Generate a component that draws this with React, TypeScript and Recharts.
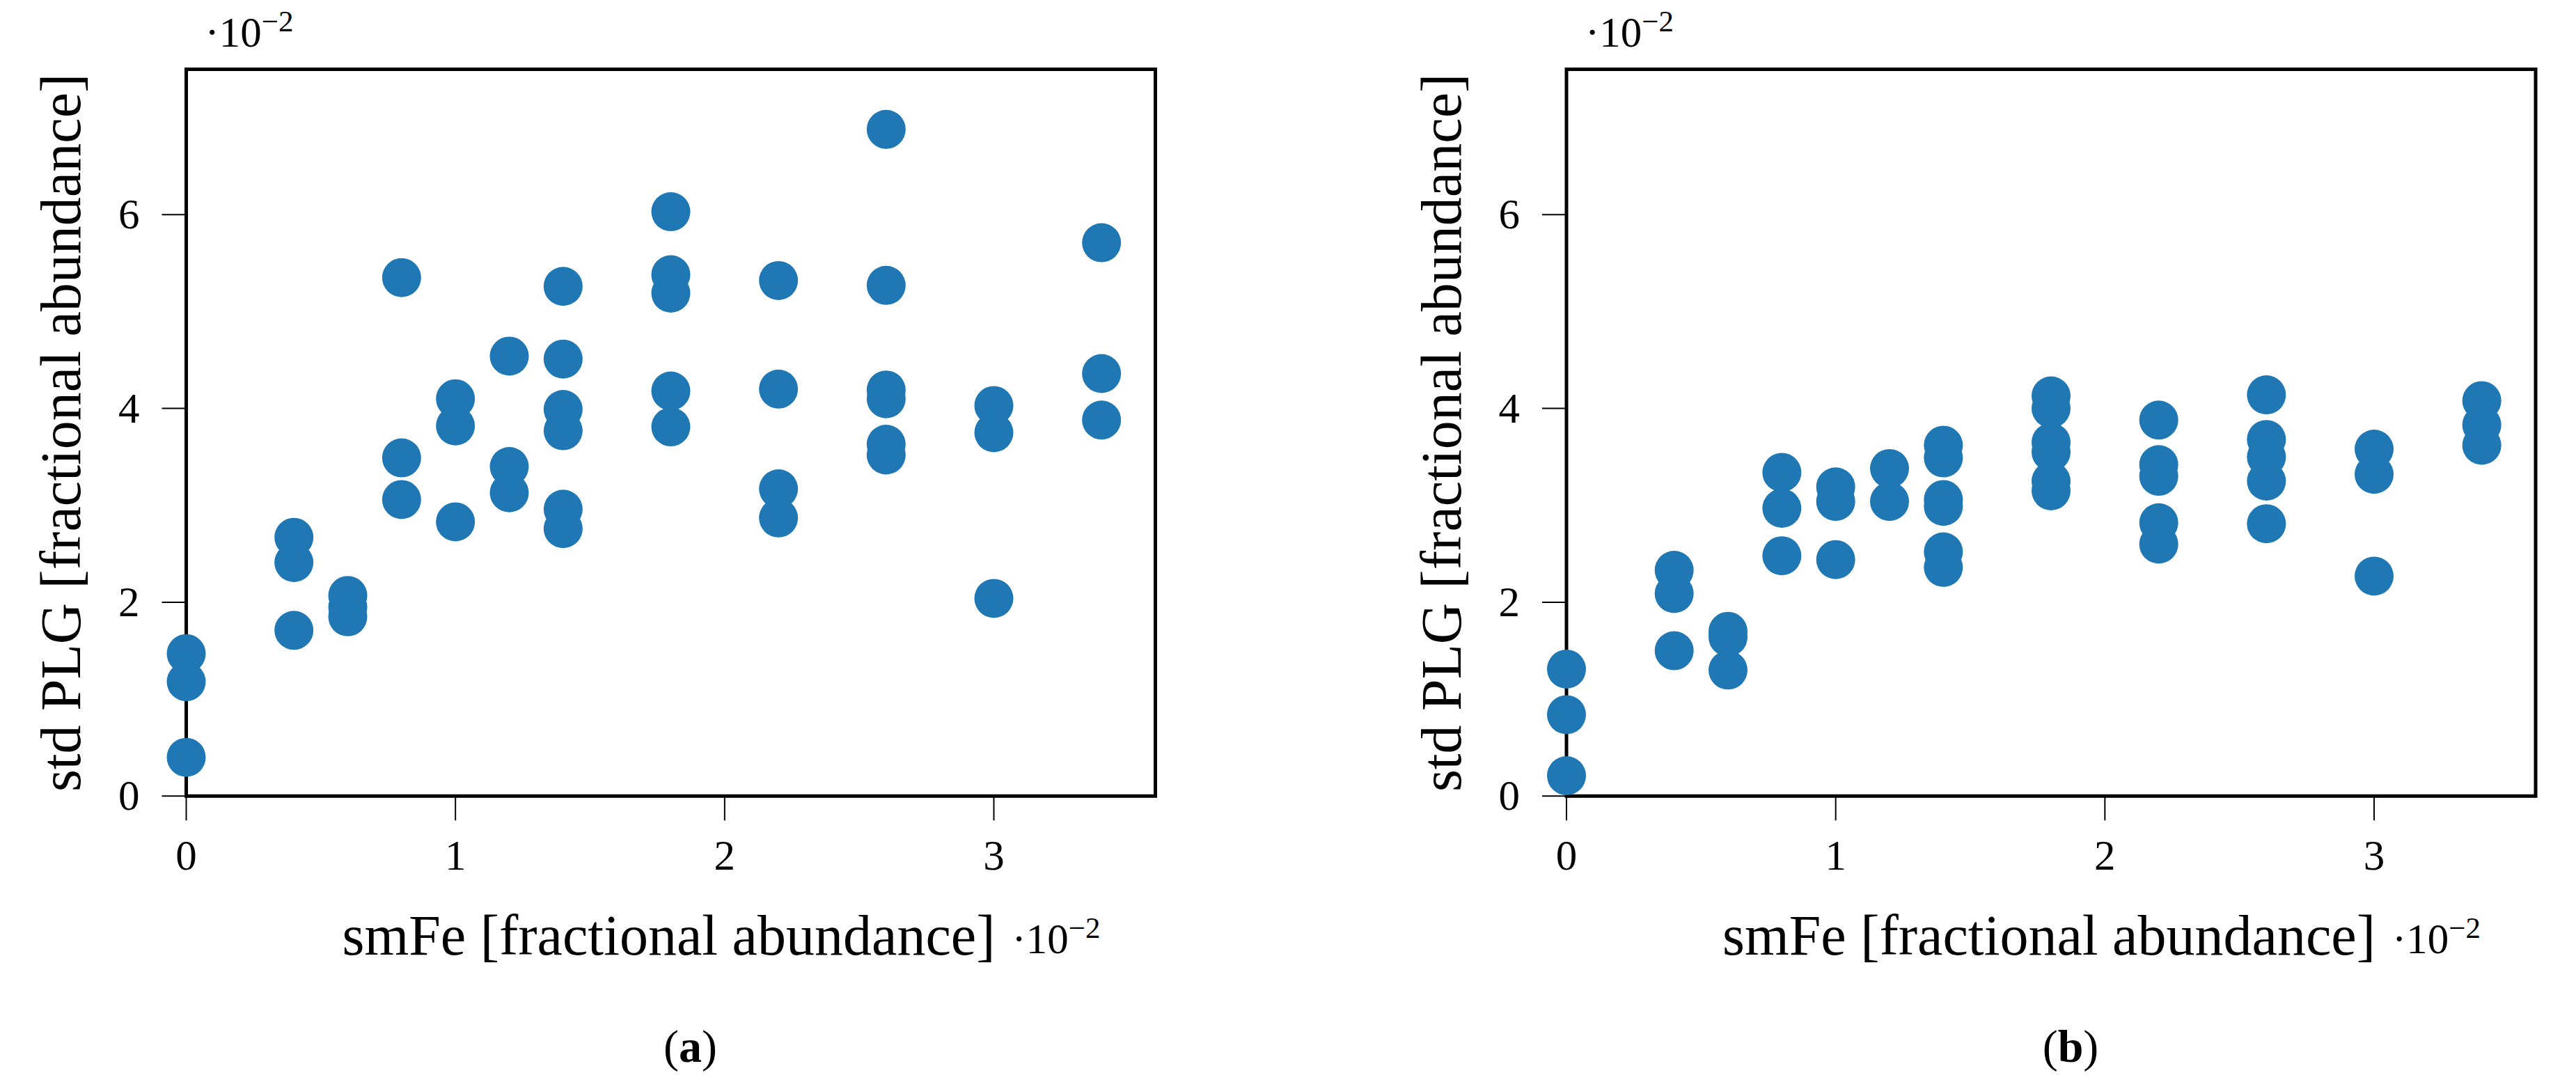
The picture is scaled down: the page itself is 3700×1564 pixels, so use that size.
import React from 'react';
import { ScatterChart, Scatter, XAxis, YAxis, ReferenceArea } from 'recharts';

// ---------- data (units of 1e-2) ----------
const xTicks = [0, 1, 2, 3];
const yTicks = [0, 2, 4, 6];
const xDomain: [number, number] = [0, 3.6];
const yDomain: [number, number] = [0, 7.5];

// panel (a)
const smFeA = [
  0, 0, 0,
  0.4, 0.4, 0.4,
  0.6, 0.6, 0.6,
  0.8, 0.8, 0.8,
  1.0, 1.0, 1.0,
  1.2, 1.2, 1.2,
  1.4, 1.4, 1.4, 1.4, 1.4, 1.4,
  1.8, 1.8, 1.8, 1.8, 1.8,
  2.2, 2.2, 2.2, 2.2,
  2.6, 2.6, 2.6, 2.6, 2.6, 2.6,
  3.0, 3.0, 3.0,
  3.4, 3.4, 3.4,
];
const plgA = [
  1.47, 1.18, 0.40,
  2.67, 2.41, 1.71,
  2.07, 1.95, 1.85,
  5.35, 3.49, 3.06,
  4.10, 3.82, 2.83,
  4.54, 3.40, 3.13,
  5.26, 4.51, 3.99, 3.77, 2.96, 2.76,
  6.03, 5.38, 5.19, 4.18, 3.81,
  5.32, 4.20, 3.17, 2.87,
  6.88, 5.27, 4.19, 4.10, 3.63, 3.52,
  4.03, 3.75, 2.04,
  5.71, 4.36, 3.88,
];

// panel (b)
const smFeB = [
  0, 0, 0,
  0.4, 0.4, 0.4,
  0.6, 0.6, 0.6,
  0.8, 0.8, 0.8,
  1.0, 1.0, 1.0,
  1.2, 1.2,
  1.4, 1.4, 1.4, 1.4, 1.4, 1.4,
  1.8, 1.8, 1.8, 1.8, 1.8, 1.8,
  2.2, 2.2, 2.2, 2.2, 2.2,
  2.6, 2.6, 2.6, 2.6, 2.6,
  3.0, 3.0, 3.0,
  3.4, 3.4, 3.4,
];
const plgB = [
  1.31, 0.84, 0.21,
  2.33, 2.09, 1.50,
  1.70, 1.64, 1.30,
  3.34, 2.97, 2.48,
  3.19, 3.04, 2.44,
  3.38, 3.04,
  3.62, 3.49, 3.06, 2.99, 2.52, 2.36,
  4.13, 4.00, 3.65, 3.55, 3.25, 3.15,
  3.88, 3.42, 3.30, 2.82, 2.60,
  4.14, 3.68, 3.50, 3.25, 2.81,
  3.58, 3.32, 2.27,
  4.08, 3.83, 3.62,
];

const xLabelText = 'smFe [fractional abundance]';
const yLabelText = 'std PLG [fractional abundance]';
const scaleBase = '·10';
const scaleExp = '−2';
const captionLetters = ['a', 'b'];

// ---------- layout ----------
const FONT = '"Liberation Serif", "Times New Roman", serif';
const COLOR = '#1f77b4';
const CHART_W = 1850;
const CHART_H = 1564;
const PLOT_TOP = 99.5;
const PLOT_H = 1043.8;
const PLOT_W = 1392;
const TICK_FS = 61;
const LABEL_FS = 82;
const Y_AXIS_W = 100;
const X_AXIS_H = 100;
const TICK_LEN = 35;

const zip = (xs: number[], ys: number[]) => xs.map((x, i) => ({ x, y: ys[i] }));

const Dot = (p: any) => <circle cx={p.cx} cy={p.cy} r={28} fill={COLOR} stroke="none" />;

const Frame = (p: any) => (
  <rect x={p.x} y={p.y} width={p.width} height={p.height} fill="none" stroke="#000" strokeWidth={5} />
);

function Panel({ xs, ys, letter, plotLeft }: { xs: number[]; ys: number[]; letter: string; plotLeft: number }) {
  const data = zip(xs, ys);
  const bottom = PLOT_TOP + PLOT_H;
  const right = plotLeft + PLOT_W;
  const cx = plotLeft + PLOT_W / 2;
  const cy = PLOT_TOP + PLOT_H / 2;

  const XTick = (p: any) => (
    <text x={p.x} y={bottom + TICK_LEN + 71} textAnchor="middle" fontSize={TICK_FS} fontFamily={FONT} fill="#000" stroke="none">
      {p.payload.value}
    </text>
  );

  const YTick = (p: any) => (
    <text x={plotLeft - TICK_LEN - 32} y={p.y + 20} textAnchor="end" fontSize={TICK_FS} fontFamily={FONT} fill="#000" stroke="none">
      {p.payload.value}
    </text>
  );

  const ScaleLabel = ({ x, y }: { x: number; y: number }) => (
    <text x={x} y={y} fontSize={TICK_FS} fontFamily={FONT} fill="#000" stroke="none">
      {scaleBase}
      <tspan dy={-22} fontSize={43}>{scaleExp}</tspan>
    </text>
  );

  const xLabel = () => (
    <g>
      <text x={cx - 3} y={bottom + 228} textAnchor="middle" fontSize={LABEL_FS} fontFamily={FONT} fill="#000" stroke="none">
        {xLabelText}
      </text>
      <ScaleLabel x={right - 206} y={bottom + 226} />
      <text x={cx + 28} y={bottom + 382} textAnchor="middle" fontSize={66} fontFamily={FONT} fill="#000" stroke="none">
        (<tspan fontWeight="bold">{letter}</tspan>)
      </text>
    </g>
  );

  const lx = plotLeft - 152;
  const yLabel = () => (
    <g>
      <text
        x={lx}
        y={cy}
        transform={`rotate(-90, ${lx}, ${cy})`}
        textAnchor="middle"
        fontSize={LABEL_FS}
        fontFamily={FONT}
        fill="#000"
        stroke="none"
      >
        {yLabelText}
      </text>
      <ScaleLabel x={plotLeft + 27} y={PLOT_TOP - 32.5} />
    </g>
  );

  return (
    <ScatterChart
      width={CHART_W}
      height={CHART_H}
      margin={{
        top: PLOT_TOP,
        left: plotLeft - Y_AXIS_W,
        right: CHART_W - right,
        bottom: CHART_H - bottom - X_AXIS_H,
      }}
    >
      <XAxis
        type="number"
        dataKey="x"
        domain={xDomain}
        ticks={xTicks}
        height={X_AXIS_H}
        axisLine={false}
        tickLine={{ stroke: '#000', strokeWidth: 2 }}
        tickSize={TICK_LEN}
        tickMargin={0}
        tick={XTick}
        interval={0}
        label={xLabel}
      />
      <YAxis
        type="number"
        dataKey="y"
        domain={yDomain}
        ticks={yTicks}
        width={Y_AXIS_W}
        axisLine={false}
        tickLine={{ stroke: '#000', strokeWidth: 2 }}
        tickSize={TICK_LEN}
        tickMargin={0}
        tick={YTick}
        interval={0}
        label={yLabel}
      />
      <ReferenceArea
        x1={xDomain[0]}
        x2={xDomain[1]}
        y1={yDomain[0]}
        y2={yDomain[1]}
        ifOverflow="visible"
        shape={Frame}
      />
      <Scatter data={data} fill={COLOR} stroke="none" shape={Dot} isAnimationActive={false} />
    </ScatterChart>
  );
}

export default function App() {
  return (
    <div style={{ position: 'absolute', left: 0, top: 0, width: 3700, height: 1564, background: '#fff' }}>
      <div style={{ position: 'absolute', left: 0, top: 0 }}>
        <Panel xs={smFeA} ys={plgA} letter={captionLetters[0]} plotLeft={267.5} />
      </div>
      <div style={{ position: 'absolute', left: 1850, top: 0 }}>
        <Panel xs={smFeB} ys={plgB} letter={captionLetters[1]} plotLeft={400} />
      </div>
    </div>
  );
}
